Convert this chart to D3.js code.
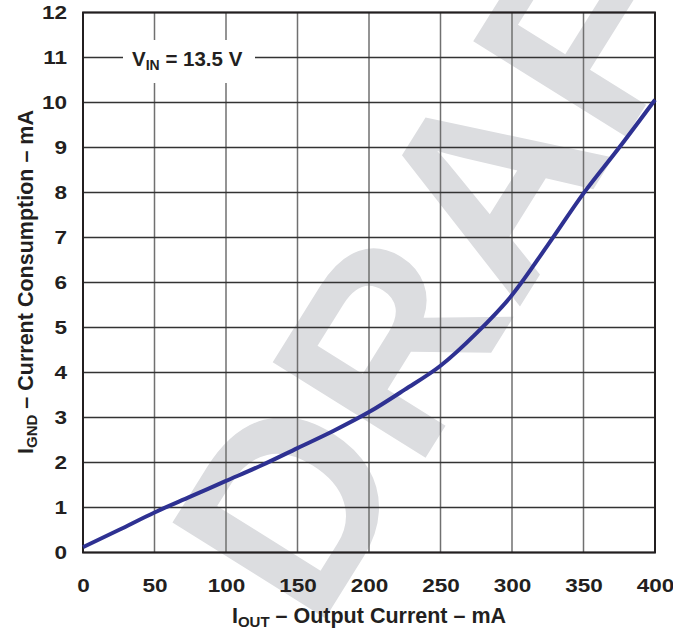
<!DOCTYPE html>
<meta charset="utf-8">
<script src="https://d3js.org/d3.v7.min.js"></script>
<style>
  body { margin: 0; background: #fff; }
  text { font-family: "Liberation Sans", Arial, sans-serif; font-weight: bold; }
</style>
<div id="chart"></div>
<script>
// data (output current mA, ground current mA)
var iout = [0, 25, 50, 75, 100, 125, 150, 175, 200, 225, 250, 275, 300, 325, 350, 375, 400];
var ignd = [0.12, 0.5, 0.89, 1.24, 1.59, 1.94, 2.32, 2.7, 3.12, 3.62, 4.15, 4.87, 5.72, 6.83, 7.98, 9.0, 10.06];
var xTicks = [0, 50, 100, 150, 200, 250, 300, 350, 400];
var yTicks = [0, 1, 2, 3, 4, 5, 6, 7, 8, 9, 10, 11, 12];

var W = 673, H = 630;
var margin = {top: 12.5, right: 18, bottom: 77.5, left: 83};
var width = W - margin.left - margin.right,
    height = H - margin.top - margin.bottom;

var svg = d3.select("#chart").append("svg")
    .attr("width", W)
    .attr("height", H);

// watermark
svg.append("text")
    .attr("transform", "translate(316,633) rotate(-58)")
    .style("font-size", "262px")
    .attr("fill", "#dcdde0")
    .text("DRAFT");

var g = svg.append("g")
    .attr("transform", "translate(" + margin.left + "," + margin.top + ")");

var x = d3.scaleLinear().domain([0, 400]).range([0, width]);
var y = d3.scaleLinear().domain([0, 12]).range([height, 0]);

// grid
g.selectAll(".vgrid").data(xTicks).enter().append("line")
    .attr("x1", function(d) { return x(d); })
    .attr("x2", function(d) { return x(d); })
    .attr("y1", 0).attr("y2", height)
    .attr("stroke", "#707070").attr("stroke-width", 1.5);
g.selectAll(".hgrid").data(yTicks).enter().append("line")
    .attr("x1", 0).attr("x2", width)
    .attr("y1", function(d) { return y(d); })
    .attr("y2", function(d) { return y(d); })
    .attr("stroke", "#333").attr("stroke-width", 1.5);

// box behind the annotation
g.append("rect")
    .attr("x", 123 - margin.left).attr("y", 40 - margin.top)
    .attr("width", 132).attr("height", 43)
    .attr("fill", "#fff");

var note = g.append("text")
    .attr("x", 132 - margin.left).attr("y", 66 - margin.top)
    .style("font-size", "20.5px").attr("fill", "#231f20");
note.append("tspan").text("V");
note.append("tspan").attr("dy", 4).style("font-size", "14px").text("IN");
note.append("tspan").attr("dy", -4).text(" = 13.5 V");

// frame
g.append("rect")
    .attr("width", width).attr("height", height)
    .attr("fill", "none").attr("stroke", "#231f20").attr("stroke-width", 2);

// axes (labels only)
var xAxis = g.append("g")
    .attr("transform", "translate(0," + height + ")")
    .call(d3.axisBottom(x).tickValues(xTicks).tickSize(0).tickPadding(26));
var yAxis = g.append("g")
    .call(d3.axisLeft(y).tickValues(yTicks).tickSize(0).tickPadding(0));
[xAxis, yAxis].forEach(function(a) {
  a.select(".domain").remove();
  a.selectAll("text")
    .style("font-size", "18.5px")
    .style("font-family", "'Liberation Sans', Arial, sans-serif")
    .style("font-weight", "bold")
    .attr("fill", "#231f20");
});
// the reference digits are wider than Arial, stretch them a little
xAxis.selectAll("text").attr("transform", "scale(1.22,1)");
yAxis.selectAll("text").attr("x", 0).attr("transform", "translate(-16,0) scale(1.22,1)");

// curve
var data = iout.map(function(v, i) { return [v, ignd[i]]; });
g.append("path")
    .datum(data)
    .attr("fill", "none")
    .attr("stroke", "#2e3192")
    .attr("stroke-width", 4)
    .attr("d", d3.line()
      .x(function(d) { return x(d[0]); })
      .y(function(d) { return y(d[1]); })
      .curve(d3.curveMonotoneX));

// axis titles
var xt = svg.append("text")
    .attr("x", margin.left + width / 2).attr("y", 623)
    .attr("text-anchor", "middle")
    .style("font-size", "21.5px").attr("fill", "#231f20");
xt.append("tspan").text("I");
xt.append("tspan").attr("dy", 4).style("font-size", "15px").text("OUT");
xt.append("tspan").attr("dy", -4).text(" \u2013 Output Current \u2013 mA");

var yt = svg.append("text")
    .attr("transform", "translate(33,282) rotate(-90)")
    .attr("text-anchor", "middle")
    .style("font-size", "21.5px").attr("fill", "#231f20");
yt.append("tspan").text("I");
yt.append("tspan").attr("dy", 4).style("font-size", "15px").text("GND");
yt.append("tspan").attr("dy", -4).text(" \u2013 Current Consumption \u2013 mA");
</script>
